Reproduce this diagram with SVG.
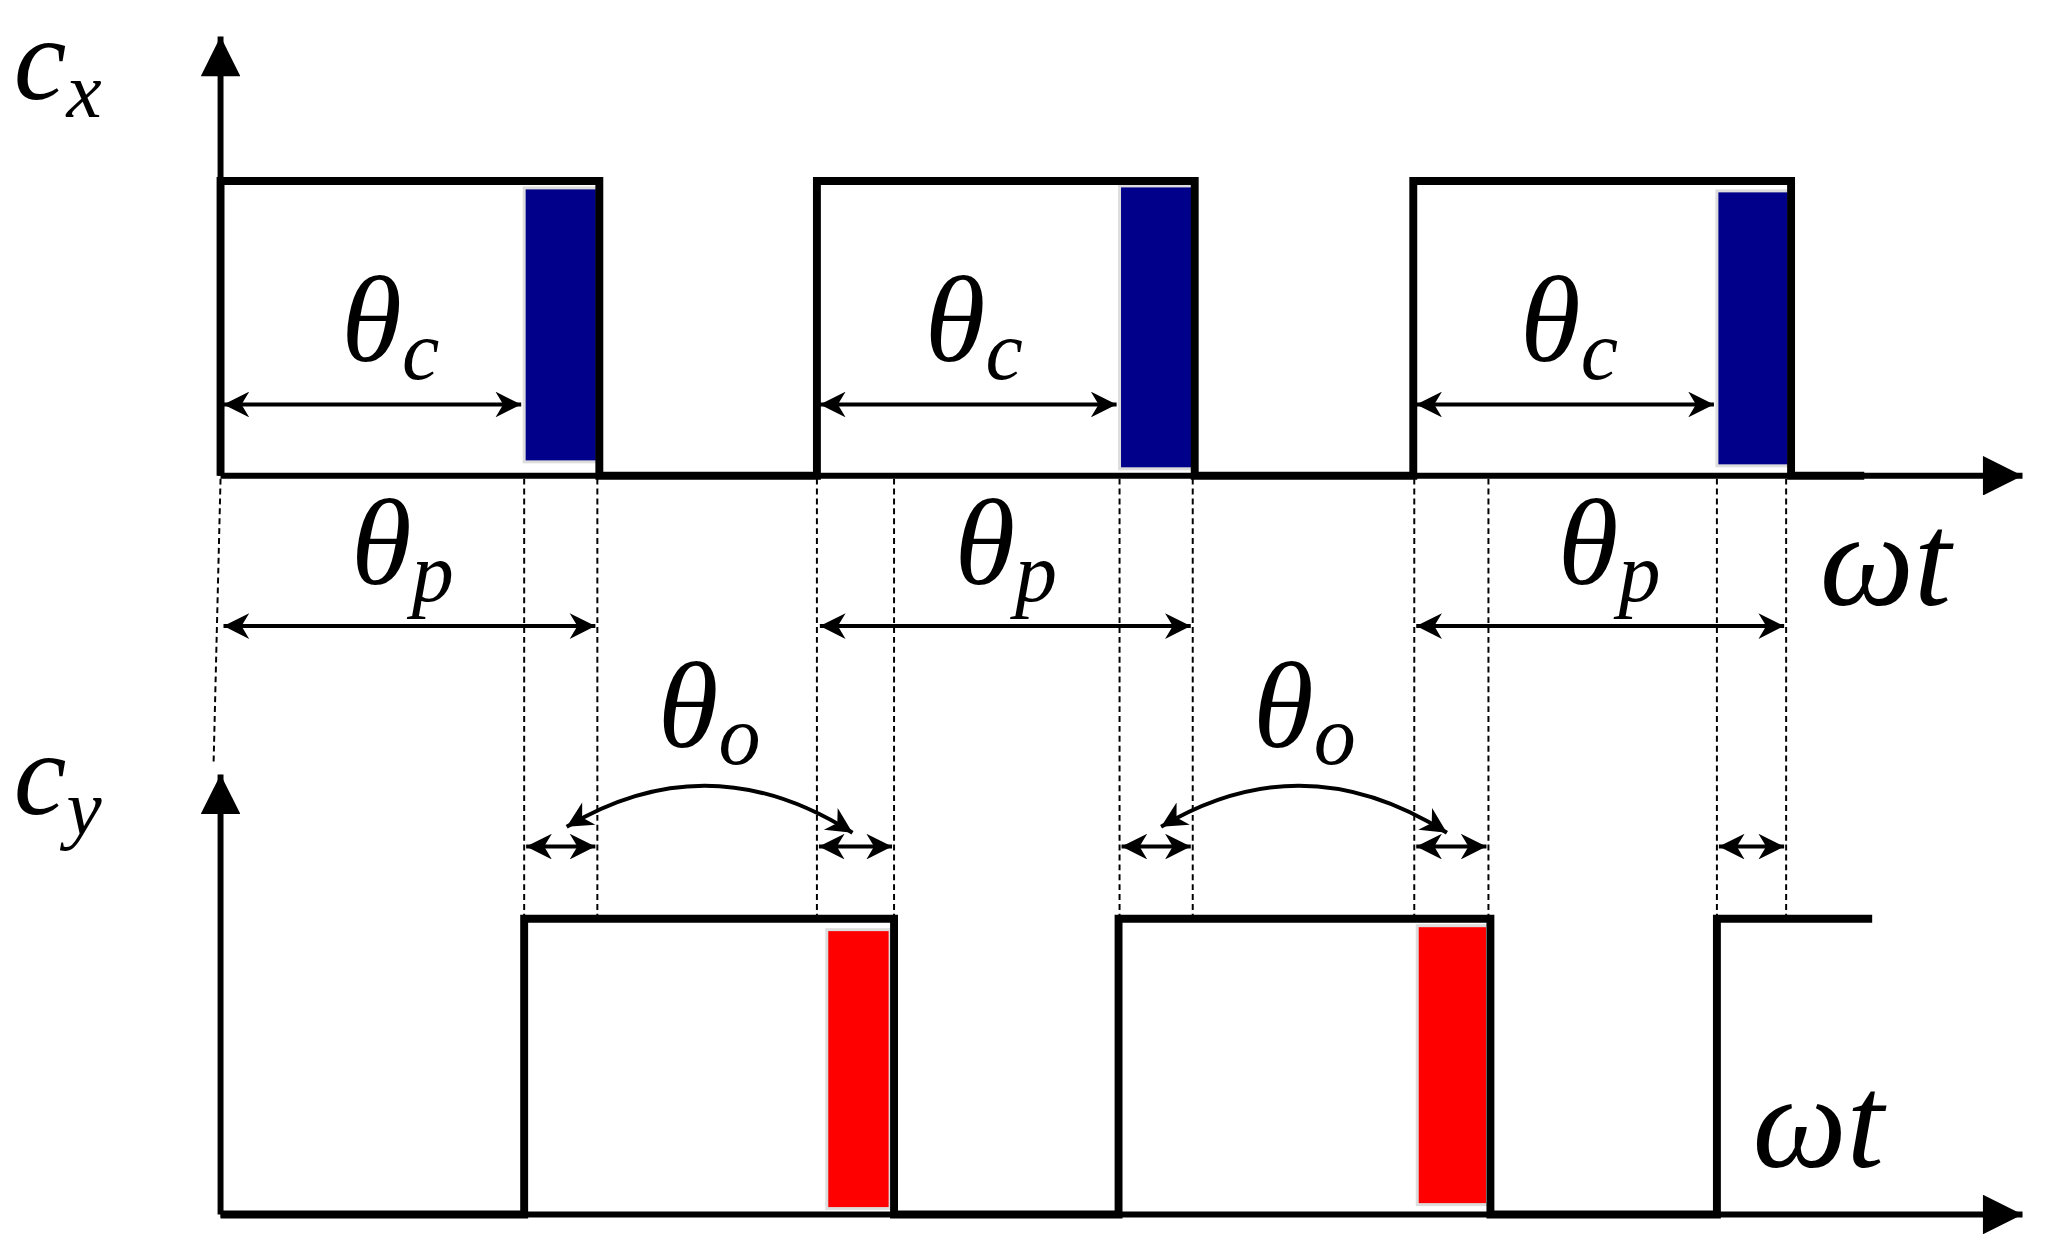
<svg xmlns="http://www.w3.org/2000/svg" width="2056" height="1260" viewBox="0 0 2056 1260">
<style>
.w{fill:none;stroke:#000;stroke-width:8}
.d{stroke:#000;stroke-width:2;stroke-dasharray:6,4;fill:none}
.a{stroke:#000;stroke-width:4;fill:none;marker-start:url(#h2);marker-end:url(#h2)}
.t{font-family:"Liberation Serif","DejaVu Serif","Times New Roman",serif;font-style:italic;fill:#000}
.b{fill:#00008b;stroke:#ddd;stroke-width:3}
.r{fill:#ff0000;stroke:#ddd;stroke-width:3}
</style>
<defs>
<marker id="h2" viewBox="0 0 10 10" refX="10" refY="5" markerWidth="34" markerHeight="26" markerUnits="userSpaceOnUse" orient="auto-start-reverse"><path d="M0,0L10,5L0,10L3,5z"/></marker>
<marker id="ax" viewBox="0 0 10 10" refX="10" refY="5" markerWidth="60" markerHeight="40" markerUnits="userSpaceOnUse" orient="auto"><path d="M0,0L10,5L0,10z"/></marker>
</defs>
<g transform="scale(0.989)">
<g id="fills">
<rect class="b" x="530" y="190" width="74" height="277"/>
<rect class="b" x="1132" y="188" width="74" height="286"/>
<rect class="b" x="1736" y="193" width="73" height="278"/>
<rect class="r" x="836" y="940" width="64" height="282"/>
<rect class="r" x="1433" y="936" width="71" height="282"/>
</g>
<g id="connectors">
<line x1="223" y1="481" x2="223" y2="37" stroke="#000" stroke-width="6" marker-end="url(#ax)"/>
<line x1="223" y1="1228" x2="223" y2="783" stroke="#000" stroke-width="6" marker-end="url(#ax)"/>
<line x1="223" y1="481" x2="2045" y2="481" stroke="#000" stroke-width="6" marker-end="url(#ax)"/>
<line x1="223" y1="1228" x2="2045" y2="1228" stroke="#000" stroke-width="6" marker-end="url(#ax)"/>
<path class="w" d="M223,481V183H606V481H826V183H1208V481H1429V183H1811V481H1885"/>
<path class="w" d="M223,1228H530V929H904V1228H1131V929H1507V1228H1736V929H1893"/>
<path class="d" d="M223,484L216,770"/>
<path class="d" d="M530,484V929M604,484V929M826,484V929M904,484V929M1132,484V929M1206,484V929M1430,484V929M1505,484V929M1736,484V929M1806,484V929"/>
<line class="a" x1="226" y1="409" x2="527" y2="409"/>
<line class="a" x1="829" y1="409" x2="1129" y2="409"/>
<line class="a" x1="1432" y1="409" x2="1733" y2="409"/>
<line class="a" x1="226" y1="633" x2="602" y2="633"/>
<line class="a" x1="829" y1="633" x2="1204" y2="633"/>
<line class="a" x1="1432" y1="633" x2="1804" y2="633"/>
<line class="a" x1="532" y1="856" x2="602" y2="856"/>
<line class="a" x1="828" y1="856" x2="902" y2="856"/>
<line class="a" x1="1134" y1="856" x2="1204" y2="856"/>
<line class="a" x1="1432" y1="856" x2="1503" y2="856"/>
<line class="a" x1="1738" y1="856" x2="1804" y2="856"/>
<path class="a" d="M573,836Q717,750 862,842"/>
<path class="a" d="M1174,836Q1318,750 1463,842"/>
</g>
<g id="labels">
<text class="t" x="14" y="100" font-size="120">c<tspan font-size="80" dy="18">x</tspan></text>
<text class="t" x="14" y="823" font-size="120">c<tspan font-size="80" dy="20">y</tspan></text>
<text class="t" x="345" y="365" font-size="125">θ<tspan font-size="85" dy="18">c</tspan></text>
<text class="t" x="935" y="365" font-size="125">θ<tspan font-size="85" dy="18">c</tspan></text>
<text class="t" x="1537" y="365" font-size="125">θ<tspan font-size="85" dy="18">c</tspan></text>
<text class="t" x="355" y="590" font-size="125">θ<tspan font-size="85" dy="18">p</tspan></text>
<text class="t" x="965" y="590" font-size="125">θ<tspan font-size="85" dy="18">p</tspan></text>
<text class="t" x="1575" y="590" font-size="125">θ<tspan font-size="85" dy="18">p</tspan></text>
<text class="t" x="665" y="755" font-size="125">θ<tspan font-size="85" dy="18">o</tspan></text>
<text class="t" x="1267" y="755" font-size="125">θ<tspan font-size="85" dy="18">o</tspan></text>
<text class="t" x="1840" y="612" font-size="135">ωt</text>
<text class="t" x="1772" y="1180" font-size="135">ωt</text>
</g>
</g>
</svg>
